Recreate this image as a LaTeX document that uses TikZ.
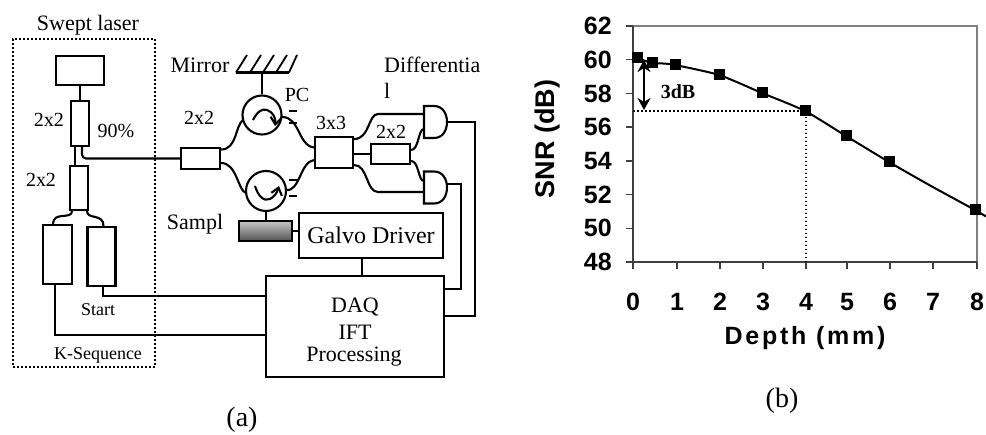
\documentclass[tikz,border=0pt]{standalone}
\usepackage{fontspec}
\newfontfamily\serifa{Liberation Serif}
\newfontfamily\plotfont{Liberation Sans}
\newfontfamily\plotwide{Liberation Sans}[LetterSpace=11]
\usetikzlibrary{calc,arrows.meta}
\tikzset{
  x=1pt,y=-1pt,
  ln/.style={line width=2.1pt,line join=miter},
  part/.style={draw,line width=2.1pt,inner sep=0pt,minimum width=#1},
  circ/.style={draw,circle,line width=2.1pt,inner sep=0pt,minimum size=39pt},
  lab/.style={inner sep=0pt,font=\serifa\fontsize{22}{24}\selectfont},
  labs/.style={inner sep=0pt,font=\serifa\fontsize{20}{22}\selectfont},
  capt/.style={inner sep=0pt,font=\serifa\fontsize{28}{30}\selectfont},
  ticklab/.style={inner sep=0pt,font=\plotfont\bfseries\fontsize{25}{27}\selectfont},
  mk/.style={fill=black,inner sep=0pt,minimum size=11pt},
  dots/.style={line width=1.7pt,dash pattern=on 1.7pt off 2.3pt},
  axis/.style={line width=1.5pt,color=black!75},
  rim/.style={line width=2.2pt,color=black!50},
}
\begin{document}
\begin{tikzpicture}
\useasboundingbox (0,0) rectangle (986,435);
% ---------- (a) ----------
\node[draw,dots,inner sep=0pt,minimum width=142pt,minimum height=328pt] (sweep) at (84,203) {};
\node[part=48pt,minimum height=29pt] (laser) at (80,70.5) {};
\node[part=18pt,minimum height=45pt] (c1) at (80,123.5) {};
\node[part=18pt,minimum height=44pt] (c2) at (79,188) {};
\node[part=39pt,minimum height=21pt] (c3) at (200.5,158.5) {};
\node[part=38pt,minimum height=31pt] (c33) at (334,152.5) {};
\node[part=39pt,minimum height=20pt] (c4) at (390.5,154) {};
\node[part=29pt,minimum height=59pt] (kdet) at (57.5,254.5) {};
\node[part=28pt,minimum height=59pt] (sdet) at (101.5,256.5) {};
\node[circ] (cirt) at (262,115) {};
\node[circ,minimum size=40pt] (cirb) at (266,191) {};
\node[part=53pt,minimum height=20pt,top color=black!22,bottom color=black!68] (sample) at (265.5,231) {};
\node[part=144pt,minimum height=45pt] (galvo) at (371,235.5) {};
\node[part=178pt,minimum height=101pt] (daq) at (355,326.5) {};
% mirror
\coordinate (ma) at (236,72.5);
\coordinate (mb) at (289,72.5);
\draw[ln] (ma) -- (mb);
\foreach \xa/\xb in {236/247,250/261,263/274,276/287,289/297}
  \draw[ln,line width=1.8pt] (\xa,72.5) -- (\xb,55);
\draw[ln] (cirt.north) -- (cirt.north |- ma);
% AND gates
\coordinate (gta) at (424,114);
\coordinate (gtb) at (424,129);
\coordinate (gtc) at (447,122);
\coordinate (gba) at (424,181);
\coordinate (gbb) at (424,192);
\coordinate (gbc) at (446.5,184);
\draw[ln] (424,106) -- (434,106) .. controls (443,106) and (447,114) .. (gtc)
  .. controls (447,130) and (443,138) .. (434,138) -- (424,138) -- cycle;
\draw[ln] (424,171.5) -- (434,171.5) .. controls (443,171.5) and (447,179.5) .. (447,187.5)
  .. controls (447,195.5) and (443,203.5) .. (434,203.5) -- (424,203.5) -- cycle;
% fibres
\draw[ln] (laser.south) -- (c1.north);
\draw[ln] ($(c1.south)+(-5,0)$) -- ($(c2.north)+(-4,0)$);
\draw[ln,rounded corners=4pt] ($(c1.south)+(2,0)$) |- (c3.west);
\draw[ln] ($(c2.south)+(-7,0)$) .. controls +(0,9) and +(0,-13) .. ($(kdet.north)+(-4.5,0)$);
\draw[ln] ($(c2.south)+(8,0)$) .. controls +(0,9) and +(0,-13) .. ($(sdet.north)+(2,0)$);
\draw[ln] ($(c3.east)+(0,-9)$) .. controls +(16,0) and +(-8,6) .. ($(cirt.center)+(-19,5)$);
\draw[ln] ($(c3.east)+(0,4.5)$) .. controls +(16,0) and +(-8,-2) .. ($(cirb.center)+(-20,2)$);
\draw[ln] ($(cirt.center)+(20,2)$) .. controls +(18,0) and +(-16,-2) .. ($(c33.west)+(0,-5)$);
\draw[ln] ($(cirb.center)+(20,-1)$) .. controls +(14,2) and +(-14,2) .. ($(c33.west)+(0,7.5)$);
\draw[ln] ($(c33.east)+(0,-13.5)$) .. controls +(16,0) and +(-10,0) .. (378,114) -- (gta);
\draw[ln] (c33.east |- c4.west) -- (c4.west);
\draw[ln] ($(c33.east)+(0,12.5)$) .. controls +(14,0) and +(-12,0) .. (378,192) -- (gbb);
\draw[ln] ($(c4.east)+(0,-4)$) .. controls +(8,0) and +(-6,0) .. (gtb);
\draw[ln] ($(c4.east)+(0,7)$) .. controls +(8,0) and +(-6,0) .. (gba);
% circulator arrows
\draw[ln,-{Straight Barb[length=7pt,width=11pt]}] (253,120) .. controls (257,112) and (262,108) .. (267,110) .. controls (273,112) and (276,118) .. (275,126);
\draw[ln,-{Straight Barb[length=7pt,width=11pt]}] (255,186) .. controls (258,196) and (264,202) .. (270,199) .. controls (274,197) and (277,193) .. (279,186);
% polarisation marks
\foreach \yy in {111,123,180,196}
  \draw[line width=2pt] (289,\yy) -- (297,\yy);
% sample, galvo, daq
\draw[ln] (cirb.south) -- (sample.north -| cirb.south);
\draw[ln] (sample.east) -- (galvo.west |- sample.east);
\draw[ln] (galvo.south -| 362,0) -- (daq.north -| 362,0);
\draw[ln] (gbc) -- (461,184) -- (461,289) -- (daq.east |- 0,289);
\draw[ln] (gtc) -- (475,122) -- (475,316) -- (daq.east |- 0,316);
\draw[ln] ($(sdet.south)+(1.5,0)$) |- (daq.west |- 0,296);
\draw[ln] ($(kdet.south)+(-2.5,0)$) |- (daq.west |- 0,335);
% labels (a)
\node[lab] (tsw) at (88,25) {Swept laser};
\node[lab] (tmi) at (200,65) {Mirror};
\node[labs] (t1) at (49,120) {2x2};
\node[labs] (t2) at (41,180) {2x2};
\node[labs] (t90) at (116,131) {90\%};
\node[labs] (t3) at (199,118) {2x2};
\node[labs] (tpc) at (297,95) {PC};
\node[labs] (t33) at (331,123) {3x3};
\node[lab,anchor=west] (tdi) at (384,65) {Differentia};
\node[lab,anchor=west] (tdl) at (384,91) {l};
\node[labs] (t4) at (391,132) {2x2};
\node[lab] (tsa) at (195,224) {Sampl};
\node[lab,font=\serifa\fontsize{24}{26}\selectfont] at (galvo.center) {Galvo Driver};
\node[lab] (td1) at (355,307) {DAQ};
\node[lab] (td2) at (355,332) {IFT};
\node[lab] (td3) at (354,357) {Processing};
\node[inner sep=0pt,font=\serifa\fontsize{18}{20}\selectfont] (tst) at (98,310) {Start};
\node[inner sep=0pt,font=\serifa\fontsize{18}{20}\selectfont] (tks) at (98,355) {K-Sequence};
\node[capt] (capa) at (242,420) {(a)};
\node[capt] (capb) at (782,401) {(b)};
% ---------- (b) ----------
\coordinate (tl) at (633,26);
\coordinate (tr) at (977,26);
\coordinate (bl) at (633,262);
\coordinate (br) at (977,262);
\draw[rim] (tl) -- (tr) -- (br);
\draw[axis] (tl) -- (bl) -- (br);
\foreach \yy/\lb in {26/62,59.7/60,93.4/58,127.1/56,160.9/54,194.6/52,228.3/50,262/48}{
  \draw[axis] (626,\yy) -- (633,\yy);
  \node[ticklab,anchor=east] at (612,\yy) {\lb};
}
\foreach \xx/\lb in {633/0,677/1,720/2,763/3,806/4,847/5,890/6,933/7,977/8}{
  \draw[axis] (\xx,262) -- (\xx,269);
  \node[ticklab] at (\xx,302) {\lb};
}
\node[inner sep=0pt,font=\plotfont\bfseries\fontsize{27}{29}\selectfont,rotate=90] (ylab) at (548,139) {SNR (dB)};
\node[inner sep=0pt,font=\plotwide\bfseries\fontsize{25}{27}\selectfont] (xlab) at (805,338) {Depth (mm)};
\node[mk] (m1) at (637,58) {};
\node[mk] (m2) at (652,63) {};
\node[mk] (m3) at (675,65) {};
\node[mk] (m4) at (719,75) {};
\node[mk] (m5) at (762,93) {};
\node[mk] (m6) at (805,111) {};
\node[mk] (m7) at (846,136) {};
\node[mk] (m8) at (889,162) {};
\node[mk] (m9) at (975,210) {};
\coordinate (mend) at (986,216.5);
\draw[line width=2pt] plot[smooth,tension=0.4] coordinates {(m1) (m2) (663,63.5) (m3) (m4) (m5) (m6) (m7) (m8) (931,186) (m9) (mend)};
\draw[dots] (bl |- m6) -- (m6.west);
\draw[dots] (m6.south -| 806,0) -- (806,262);
\coordinate (aa) at (644,60);
\coordinate (ab) at (644,110);
\draw[line width=1.8pt,{Stealth[length=12pt,width=13pt]}-{Stealth[length=12pt,width=13pt]}] (aa) -- (ab);
\node[inner sep=0pt,font=\serifa\bfseries\fontsize{20}{22}\selectfont] (t3db) at (678,92) {3dB};
\end{tikzpicture}
\end{document}
